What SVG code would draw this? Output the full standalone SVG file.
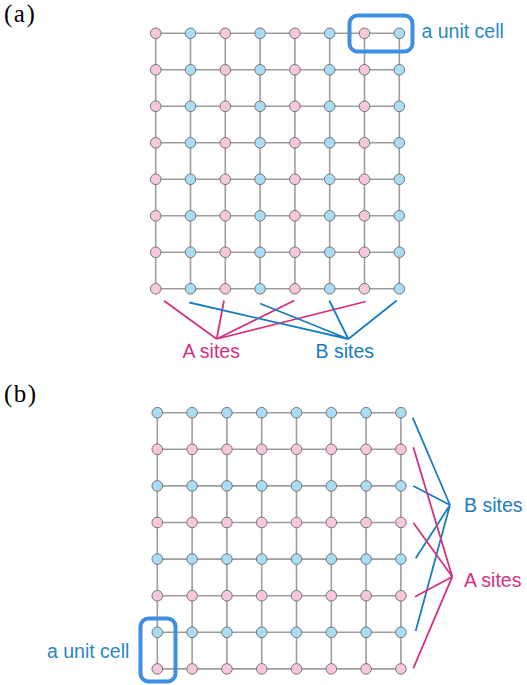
<svg xmlns="http://www.w3.org/2000/svg" xmlns:xlink="http://www.w3.org/1999/xlink" width="527" height="685" viewBox="0 0 527 685">
<style>
.grid{stroke:#9d9d9d;stroke-width:1.6;fill:none}
.A{fill:#f8c6dd;stroke:#767676;stroke-width:1}
.B{fill:#a9dcf6;stroke:#767676;stroke-width:1}
.la{stroke:#d4317f;stroke-width:1.8;fill:none}
.lb{stroke:#1a7cc1;stroke-width:1.8;fill:none}
.cell{stroke:#3c8fe2;stroke-width:4;fill:none}
.tb{font-family:"Liberation Sans",Arial,sans-serif;font-size:19.5px;fill:#2a87c6}
.ta{font-family:"Liberation Sans",Arial,sans-serif;font-size:19.5px;fill:#d4317f}
.panel{font-family:"Liberation Serif","Times New Roman",serif;font-size:25px;fill:#000;letter-spacing:1.5px}
</style>
<defs>
<circle id="na" r="5.3" class="A"/>
<circle id="nb" r="5.3" class="B"/>
</defs>
<text class="panel" x="4" y="22">(a)</text>
<text class="panel" x="4" y="402">(b)</text>
<g id="grid-a" class="grid">
<path d="M155.7 33.3H399.3M155.7 69.8H399.3M155.7 106.3H399.3M155.7 142.8H399.3M155.7 179.3H399.3M155.7 215.8H399.3M155.7 252.3H399.3M155.7 288.8H399.3"/>
<path d="M155.7 33.3V288.8M190.5 33.3V288.8M225.3 33.3V288.8M260.1 33.3V288.8M294.9 33.3V288.8M329.7 33.3V288.8M364.5 33.3V288.8M399.3 33.3V288.8"/>
</g>
<g id="grid-b" class="grid">
<path d="M157.3 412.7H400.9M157.3 449.3H400.9M157.3 485.9H400.9M157.3 522.5H400.9M157.3 559.1H400.9M157.3 595.7H400.9M157.3 632.3H400.9M157.3 668.9H400.9"/>
<path d="M157.3 412.7V668.9M192.1 412.7V668.9M226.9 412.7V668.9M261.7 412.7V668.9M296.5 412.7V668.9M331.3 412.7V668.9M366.1 412.7V668.9M400.9 412.7V668.9"/>
</g>
<g id="nodes-a">
<g id="a-0-0"><use href="#na" x="155.7" y="33.3"/></g><g id="a-0-1"><use href="#nb" x="190.5" y="33.3"/></g><g id="a-0-2"><use href="#na" x="225.3" y="33.3"/></g><g id="a-0-3"><use href="#nb" x="260.1" y="33.3"/></g><g id="a-0-4"><use href="#na" x="294.9" y="33.3"/></g><g id="a-0-5"><use href="#nb" x="329.7" y="33.3"/></g><g id="a-0-6"><use href="#na" x="364.5" y="33.3"/></g><g id="a-0-7"><use href="#nb" x="399.3" y="33.3"/></g>
<g id="a-1-0"><use href="#na" x="155.7" y="69.8"/></g><g id="a-1-1"><use href="#nb" x="190.5" y="69.8"/></g><g id="a-1-2"><use href="#na" x="225.3" y="69.8"/></g><g id="a-1-3"><use href="#nb" x="260.1" y="69.8"/></g><g id="a-1-4"><use href="#na" x="294.9" y="69.8"/></g><g id="a-1-5"><use href="#nb" x="329.7" y="69.8"/></g><g id="a-1-6"><use href="#na" x="364.5" y="69.8"/></g><g id="a-1-7"><use href="#nb" x="399.3" y="69.8"/></g>
<g id="a-2-0"><use href="#na" x="155.7" y="106.3"/></g><g id="a-2-1"><use href="#nb" x="190.5" y="106.3"/></g><g id="a-2-2"><use href="#na" x="225.3" y="106.3"/></g><g id="a-2-3"><use href="#nb" x="260.1" y="106.3"/></g><g id="a-2-4"><use href="#na" x="294.9" y="106.3"/></g><g id="a-2-5"><use href="#nb" x="329.7" y="106.3"/></g><g id="a-2-6"><use href="#na" x="364.5" y="106.3"/></g><g id="a-2-7"><use href="#nb" x="399.3" y="106.3"/></g>
<g id="a-3-0"><use href="#na" x="155.7" y="142.8"/></g><g id="a-3-1"><use href="#nb" x="190.5" y="142.8"/></g><g id="a-3-2"><use href="#na" x="225.3" y="142.8"/></g><g id="a-3-3"><use href="#nb" x="260.1" y="142.8"/></g><g id="a-3-4"><use href="#na" x="294.9" y="142.8"/></g><g id="a-3-5"><use href="#nb" x="329.7" y="142.8"/></g><g id="a-3-6"><use href="#na" x="364.5" y="142.8"/></g><g id="a-3-7"><use href="#nb" x="399.3" y="142.8"/></g>
<g id="a-4-0"><use href="#na" x="155.7" y="179.3"/></g><g id="a-4-1"><use href="#nb" x="190.5" y="179.3"/></g><g id="a-4-2"><use href="#na" x="225.3" y="179.3"/></g><g id="a-4-3"><use href="#nb" x="260.1" y="179.3"/></g><g id="a-4-4"><use href="#na" x="294.9" y="179.3"/></g><g id="a-4-5"><use href="#nb" x="329.7" y="179.3"/></g><g id="a-4-6"><use href="#na" x="364.5" y="179.3"/></g><g id="a-4-7"><use href="#nb" x="399.3" y="179.3"/></g>
<g id="a-5-0"><use href="#na" x="155.7" y="215.8"/></g><g id="a-5-1"><use href="#nb" x="190.5" y="215.8"/></g><g id="a-5-2"><use href="#na" x="225.3" y="215.8"/></g><g id="a-5-3"><use href="#nb" x="260.1" y="215.8"/></g><g id="a-5-4"><use href="#na" x="294.9" y="215.8"/></g><g id="a-5-5"><use href="#nb" x="329.7" y="215.8"/></g><g id="a-5-6"><use href="#na" x="364.5" y="215.8"/></g><g id="a-5-7"><use href="#nb" x="399.3" y="215.8"/></g>
<g id="a-6-0"><use href="#na" x="155.7" y="252.3"/></g><g id="a-6-1"><use href="#nb" x="190.5" y="252.3"/></g><g id="a-6-2"><use href="#na" x="225.3" y="252.3"/></g><g id="a-6-3"><use href="#nb" x="260.1" y="252.3"/></g><g id="a-6-4"><use href="#na" x="294.9" y="252.3"/></g><g id="a-6-5"><use href="#nb" x="329.7" y="252.3"/></g><g id="a-6-6"><use href="#na" x="364.5" y="252.3"/></g><g id="a-6-7"><use href="#nb" x="399.3" y="252.3"/></g>
<g id="a-7-0"><use href="#na" x="155.7" y="288.8"/></g><g id="a-7-1"><use href="#nb" x="190.5" y="288.8"/></g><g id="a-7-2"><use href="#na" x="225.3" y="288.8"/></g><g id="a-7-3"><use href="#nb" x="260.1" y="288.8"/></g><g id="a-7-4"><use href="#na" x="294.9" y="288.8"/></g><g id="a-7-5"><use href="#nb" x="329.7" y="288.8"/></g><g id="a-7-6"><use href="#na" x="364.5" y="288.8"/></g><g id="a-7-7"><use href="#nb" x="399.3" y="288.8"/></g>
</g>
<g id="nodes-b">
<g id="b-0-0"><use href="#nb" x="157.3" y="412.7"/></g><g id="b-0-1"><use href="#nb" x="192.1" y="412.7"/></g><g id="b-0-2"><use href="#nb" x="226.9" y="412.7"/></g><g id="b-0-3"><use href="#nb" x="261.7" y="412.7"/></g><g id="b-0-4"><use href="#nb" x="296.5" y="412.7"/></g><g id="b-0-5"><use href="#nb" x="331.3" y="412.7"/></g><g id="b-0-6"><use href="#nb" x="366.1" y="412.7"/></g><g id="b-0-7"><use href="#nb" x="400.9" y="412.7"/></g>
<g id="b-1-0"><use href="#na" x="157.3" y="449.3"/></g><g id="b-1-1"><use href="#na" x="192.1" y="449.3"/></g><g id="b-1-2"><use href="#na" x="226.9" y="449.3"/></g><g id="b-1-3"><use href="#na" x="261.7" y="449.3"/></g><g id="b-1-4"><use href="#na" x="296.5" y="449.3"/></g><g id="b-1-5"><use href="#na" x="331.3" y="449.3"/></g><g id="b-1-6"><use href="#na" x="366.1" y="449.3"/></g><g id="b-1-7"><use href="#na" x="400.9" y="449.3"/></g>
<g id="b-2-0"><use href="#nb" x="157.3" y="485.9"/></g><g id="b-2-1"><use href="#nb" x="192.1" y="485.9"/></g><g id="b-2-2"><use href="#nb" x="226.9" y="485.9"/></g><g id="b-2-3"><use href="#nb" x="261.7" y="485.9"/></g><g id="b-2-4"><use href="#nb" x="296.5" y="485.9"/></g><g id="b-2-5"><use href="#nb" x="331.3" y="485.9"/></g><g id="b-2-6"><use href="#nb" x="366.1" y="485.9"/></g><g id="b-2-7"><use href="#nb" x="400.9" y="485.9"/></g>
<g id="b-3-0"><use href="#na" x="157.3" y="522.5"/></g><g id="b-3-1"><use href="#na" x="192.1" y="522.5"/></g><g id="b-3-2"><use href="#na" x="226.9" y="522.5"/></g><g id="b-3-3"><use href="#na" x="261.7" y="522.5"/></g><g id="b-3-4"><use href="#na" x="296.5" y="522.5"/></g><g id="b-3-5"><use href="#na" x="331.3" y="522.5"/></g><g id="b-3-6"><use href="#na" x="366.1" y="522.5"/></g><g id="b-3-7"><use href="#na" x="400.9" y="522.5"/></g>
<g id="b-4-0"><use href="#nb" x="157.3" y="559.1"/></g><g id="b-4-1"><use href="#nb" x="192.1" y="559.1"/></g><g id="b-4-2"><use href="#nb" x="226.9" y="559.1"/></g><g id="b-4-3"><use href="#nb" x="261.7" y="559.1"/></g><g id="b-4-4"><use href="#nb" x="296.5" y="559.1"/></g><g id="b-4-5"><use href="#nb" x="331.3" y="559.1"/></g><g id="b-4-6"><use href="#nb" x="366.1" y="559.1"/></g><g id="b-4-7"><use href="#nb" x="400.9" y="559.1"/></g>
<g id="b-5-0"><use href="#na" x="157.3" y="595.7"/></g><g id="b-5-1"><use href="#na" x="192.1" y="595.7"/></g><g id="b-5-2"><use href="#na" x="226.9" y="595.7"/></g><g id="b-5-3"><use href="#na" x="261.7" y="595.7"/></g><g id="b-5-4"><use href="#na" x="296.5" y="595.7"/></g><g id="b-5-5"><use href="#na" x="331.3" y="595.7"/></g><g id="b-5-6"><use href="#na" x="366.1" y="595.7"/></g><g id="b-5-7"><use href="#na" x="400.9" y="595.7"/></g>
<g id="b-6-0"><use href="#nb" x="157.3" y="632.3"/></g><g id="b-6-1"><use href="#nb" x="192.1" y="632.3"/></g><g id="b-6-2"><use href="#nb" x="226.9" y="632.3"/></g><g id="b-6-3"><use href="#nb" x="261.7" y="632.3"/></g><g id="b-6-4"><use href="#nb" x="296.5" y="632.3"/></g><g id="b-6-5"><use href="#nb" x="331.3" y="632.3"/></g><g id="b-6-6"><use href="#nb" x="366.1" y="632.3"/></g><g id="b-6-7"><use href="#nb" x="400.9" y="632.3"/></g>
<g id="b-7-0"><use href="#na" x="157.3" y="668.9"/></g><g id="b-7-1"><use href="#na" x="192.1" y="668.9"/></g><g id="b-7-2"><use href="#na" x="226.9" y="668.9"/></g><g id="b-7-3"><use href="#na" x="261.7" y="668.9"/></g><g id="b-7-4"><use href="#na" x="296.5" y="668.9"/></g><g id="b-7-5"><use href="#na" x="331.3" y="668.9"/></g><g id="b-7-6"><use href="#na" x="366.1" y="668.9"/></g><g id="b-7-7"><use href="#na" x="400.9" y="668.9"/></g>
</g>
<g id="unit-cell-a"><rect class="cell" x="349.5" y="15.5" width="63" height="36" rx="8"/><text class="tb" x="421.5" y="38">a unit cell</text></g>
<g id="unit-cell-b"><rect class="cell" x="140.5" y="618.5" width="35" height="63" rx="8"/><text class="tb" x="47" y="658">a unit cell</text></g>
<g id="connectors">
<path class="la" d="M164 300.7L216.7 339M224 300.5L216.7 339M294.3 300.5L216.7 339M365.7 301.5L216.7 339"/>
<path class="lb" d="M189.3 302.5L348.3 339M260 303.5L348.3 339M329.3 300.5L348.3 339M396.7 300.5L348.3 339"/>
<path class="lb" d="M412.7 417.7L450 505M413.3 486L450 505M415.7 558.3L450 505M415.7 631L450 505"/>
<path class="la" d="M413.3 447.3L452.3 576.7M413.3 522.7L452.3 576.7M415 596.7L452.3 576.7M413.3 668.3L452.3 576.7"/>
</g>
<g id="label-a-sites-a"><text class="ta" x="182.5" y="357.5">A sites</text></g>
<g id="label-b-sites-a"><text class="tb" x="315.5" y="357.5" style="fill:#1a7cc1">B sites</text></g>
<g id="label-b-sites-b"><text class="tb" x="464" y="511.5" style="fill:#1a7cc1">B sites</text></g>
<g id="label-a-sites-b"><text class="ta" x="464" y="587">A sites</text></g>
</svg>
